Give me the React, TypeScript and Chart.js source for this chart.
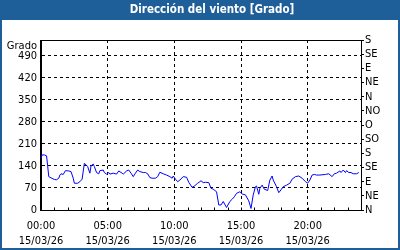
import React, { useEffect, useRef } from 'react';
import { Chart, registerables } from 'chart.js';

Chart.register(...registerables);

const chartTitle = 'Dirección del viento [Grado]';
const unitLabel = 'Grado';
const dateLabel = '15/03/26';
const hourLabels = ['00:00', '05:00', '10:00', '15:00', '20:00'];
const degreeTicks = [0, 70, 140, 210, 280, 350, 420, 490];
const compassTicks = [0, 45, 90, 135, 180, 225, 270, 315, 360, 405, 450, 495, 540];
const compassLabels = ['N', 'NE', 'E', 'SE', 'S', 'SO', 'O', 'NO', 'N', 'NE', 'E', 'SE', 'S'];

const times = [
  '00:00', '00:05', '00:15', '00:25', '00:30', '00:35', '00:45', '01:00', '01:10', '01:20',
  '01:25', '01:30', '01:40', '01:50', '02:05', '02:15', '02:25', '02:30', '02:45', '02:55',
  '03:05', '03:15', '03:25', '03:30', '03:40', '03:45', '03:55', '04:00', '04:10', '04:20',
  '04:25', '04:40', '04:45', '04:55', '05:05', '05:10', '05:25', '05:40', '05:50', '06:05',
  '06:10', '06:25', '06:35', '06:45', '06:55', '07:05', '07:15', '07:25', '07:40', '07:50',
  '08:00', '08:10', '08:20', '08:35', '08:45', '08:55', '09:10', '09:25', '09:40', '09:50',
  '09:55', '10:05', '10:15', '10:25', '10:40', '10:55', '11:05', '11:20', '11:30', '11:45',
  '11:55', '12:00', '12:10', '12:20', '12:35', '12:45', '12:55', '13:10', '13:20', '13:30',
  '13:40', '13:55', '14:10', '14:20', '14:30', '14:40', '14:55', '15:05', '15:20', '15:35',
  '15:45', '15:55', '16:05', '16:10', '16:20', '16:25', '16:35', '16:45', '17:00', '17:10',
  '17:20', '17:25', '17:40', '17:50', '18:00', '18:10', '18:25', '18:40', '18:50', '19:05',
  '19:20', '19:35', '19:50', '20:00', '20:10', '20:20', '20:30', '20:40', '20:55', '21:20',
  '21:35', '21:50', '22:00', '22:10', '22:25', '22:30', '22:40', '22:50', '22:55', '23:05',
  '23:15', '23:25', '23:40', '23:50',
];

const directions = [
  165, 175, 175, 172, 140, 106, 102, 97, 96, 101,
  111, 115, 113, 125, 124, 122, 101, 85, 85, 90,
  98, 148, 142, 138, 117, 140, 146, 138, 119, 115,
  125, 127, 119, 114, 119, 114, 117, 114, 124, 117,
  114, 124, 127, 117, 106, 117, 127, 122, 119, 119,
  115, 103, 101, 101, 106, 120, 115, 111, 106, 101,
  108, 98, 90, 95, 106, 104, 88, 72, 76, 85,
  90, 93, 87, 88, 87, 69, 66, 58, 16, 16,
  27, 8, 27, 34, 42, 53, 58, 51, 48, 29,
  5, 48, 74, 76, 50, 69, 79, 66, 62, 95,
  108, 95, 74, 55, 64, 74, 79, 85, 98, 106,
  108, 101, 90, 85, 95, 111, 113, 111, 111, 113,
  115, 106, 115, 117, 124, 119, 127, 119, 125, 119,
  119, 115, 115, 119,
];

const FONT = "'DejaVu Sans Condensed', 'DejaVu Sans', 'Liberation Sans', sans-serif";
const FRAME_BLUE = '#1e5f99';

const toHours = (t: string) => {
  const [h, m] = t.split(':').map(Number);
  return h + m / 60;
};

const framePlugin = {
  id: 'frame',
  beforeDraw(chart: any) {
    const { ctx, width, height } = chart;
    ctx.save();
    ctx.fillStyle = FRAME_BLUE;
    ctx.fillRect(0, 0, width, height);
    ctx.fillStyle = '#ffffff';
    ctx.fillRect(2, 20, width - 4, height - 22);
    ctx.fillStyle = '#ffffff';
    ctx.font = `bold 11.5px ${FONT}`;
    ctx.textAlign = 'center';
    ctx.textBaseline = 'middle';
    ctx.fillText(chartTitle, 212, 10);
    ctx.restore();
  },
  beforeDatasetsDraw(chart: any) {
    const { ctx, chartArea } = chart;
    const l = Math.round(chartArea.left) - 0.5;
    const t = Math.round(chartArea.top) + 0.5;
    const r = Math.round(chartArea.right) + 0.5;
    const b = Math.round(chartArea.bottom) + 0.5;
    ctx.save();
    ctx.strokeStyle = '#000';
    ctx.lineWidth = 1;
    ctx.setLineDash([]);
    ctx.strokeRect(l, t, r - l, b - t);
    const xs = chart.scales.x;
    ctx.beginPath();
    for (let h = 1; h < 24; h++) {
      const px = Math.round(xs.getPixelForValue(h)) + 0.5;
      ctx.moveTo(px, b);
      ctx.lineTo(px, b - 3);
    }
    ctx.stroke();
    ctx.fillStyle = '#000';
    ctx.font = `11px ${FONT}`;
    ctx.textAlign = 'right';
    ctx.textBaseline = 'middle';
    ctx.fillText(unitLabel, chartArea.left - 4, chartArea.top + 6);
    ctx.restore();
  },
};

export default function App() {
  const ref = useRef<HTMLCanvasElement | null>(null);

  useEffect(() => {
    document.body.style.margin = '0';
    const canvas = ref.current;
    if (!canvas) return;
    const points = times.map((t, i) => ({ x: toHours(t), y: directions[i] }));
    const chart = new Chart(canvas, {
      type: 'line',
      data: {
        datasets: [
          {
            data: points,
            borderColor: '#0000ff',
            borderWidth: 1,
            pointRadius: 0,
            tension: 0,
            fill: false,
          },
        ],
      },
      options: {
        responsive: false,
        devicePixelRatio: 1,
        animation: false,
        layout: { padding: { left: 2, right: 0, top: 40, bottom: 2 } },
        plugins: {
          legend: { display: false },
          tooltip: { enabled: false },
          title: { display: false },
        },
        scales: {
          x: {
            type: 'linear',
            min: 0,
            max: 24,
            afterBuildTicks: (s: any) => {
              s.ticks = Array.from({ length: 25 }, (_, h) => ({ value: h }));
            },
            afterFit: (s: any) => {
              s.height = 38;
            },
            ticks: {
              autoSkip: false,
              maxRotation: 0,
              padding: 9,
              color: '#000',
              font: { family: FONT, size: 11, lineHeight: 1.36 },
              callback: (v: any) => {
                const h = Number(v);
                if (h % 5 === 0 && h < 24) return [hourLabels[h / 5], dateLabel];
                return '';
              },
            },
            grid: {
              drawTicks: false,
              lineWidth: 1,
              color: (c: any) => {
                const h = c.tick ? c.tick.value : -1;
                return h % 5 === 0 && h > 0 && h < 24 ? '#000' : 'rgba(0,0,0,0)';
              },
            },
            border: { display: true, color: '#000', width: 1, dash: [3, 3] },
          },
          y: {
            position: 'left',
            min: 0,
            max: 540,
            afterBuildTicks: (s: any) => {
              s.ticks = degreeTicks.map((v) => ({ value: v }));
            },
            afterFit: (s: any) => {
              s.width = 39;
            },
            ticks: {
              autoSkip: false,
              padding: 4,
              color: '#000',
              font: { family: FONT, size: 11 },
            },
            grid: {
              drawTicks: false,
              color: (c: any) => (c.tick && c.tick.value > 0 ? '#000' : 'rgba(0,0,0,0)'),
            },
            border: { display: true, color: '#000', width: 1, dash: [3, 3] },
          },
          y1: {
            position: 'right',
            min: 0,
            max: 540,
            afterBuildTicks: (s: any) => {
              s.ticks = compassTicks.map((v) => ({ value: v }));
            },
            afterFit: (s: any) => {
              s.width = 39;
            },
            ticks: {
              autoSkip: false,
              padding: 1,
              color: '#000',
              font: { family: FONT, size: 11 },
              callback: (v: any) => compassLabels[compassTicks.indexOf(Number(v))] ?? '',
            },
            grid: {
              drawOnChartArea: false,
              drawTicks: true,
              tickLength: 3,
              color: '#000',
            },
            border: { display: true, color: '#000', width: 1 },
          },
        },
      },
      plugins: [framePlugin],
    });
    return () => chart.destroy();
  }, []);

  return (
    <div style={{ position: 'absolute', left: 0, top: 0, width: 400, height: 250 }}>
      <canvas ref={ref} width={400} height={250} style={{ display: 'block', width: 400, height: 250 }} />
    </div>
  );
}
